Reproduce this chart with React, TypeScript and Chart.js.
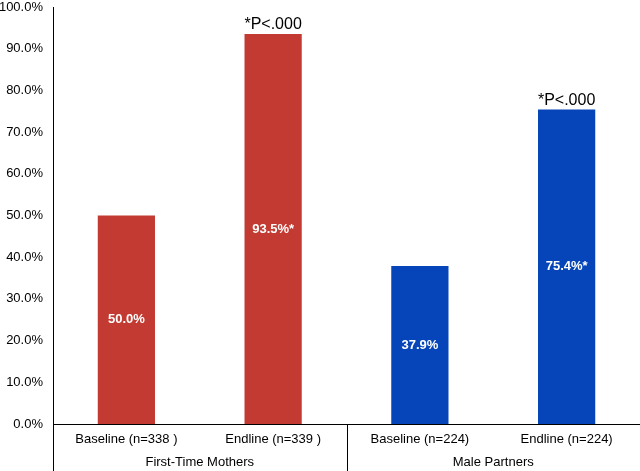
import React, { useEffect, useRef } from "react";
import { Chart, registerables } from "chart.js";
Chart.register(...registerables);

const categories = ["Baseline (n=338 )", "Endline (n=339 )", "Baseline (n=224)", "Endline (n=224)"];
const values = [50.0, 93.5, 37.9, 75.4];
const valueLabels = ["50.0%", "93.5%*", "37.9%", "75.4%*"];
const sigLabels = ["", "*P<.000", "", "*P<.000"];
const groups = ["First-Time Mothers", "Male Partners"];
const barColors = ["#C23A31", "#C23A31", "#0645B9", "#0645B9"];

const FONT = "Arial, 'Liberation Sans', sans-serif";

export default function App() {
  const ref = useRef<HTMLCanvasElement>(null);
  useEffect(() => {
    const annot = {
      id: "annot",
      afterDatasetsDraw(chart: any) {
        const ctx = chart.ctx;
        const meta = chart.getDatasetMeta(0);
        ctx.save();
        meta.data.forEach((bar: any, i: number) => {
          const mid = (bar.y + bar.base) / 2;
          ctx.fillStyle = "#ffffff";
          ctx.font = "bold 13px " + FONT;
          ctx.textAlign = "center";
          ctx.textBaseline = "middle";
          ctx.fillText(valueLabels[i], bar.x, mid);
          if (sigLabels[i]) {
            ctx.fillStyle = "#000000";
            ctx.font = "16px " + FONT;
            ctx.textBaseline = "alphabetic";
            ctx.fillText(sigLabels[i], bar.x, bar.y - 5);
          }
        });
        const area = chart.chartArea;
        const xs = chart.scales.x;
        const bottom = chart.height;
        ctx.strokeStyle = "#000000";
        ctx.lineWidth = 1;
        const left = area.left;
        const right = area.right;
        const midX = (left + right) / 2;
        [left, midX, right - 0.5].forEach((x) => {
          const px = Math.round(x) + 0.5;
          ctx.beginPath();
          ctx.moveTo(px, area.bottom);
          ctx.lineTo(px, bottom);
          ctx.stroke();
        });
        ctx.fillStyle = "#000000";
        ctx.font = "13px " + FONT;
        ctx.textAlign = "center";
        ctx.textBaseline = "middle";
        const g0 = (xs.getPixelForValue(0) + xs.getPixelForValue(1)) / 2;
        const g1 = (xs.getPixelForValue(2) + xs.getPixelForValue(3)) / 2;
        ctx.fillText(groups[0], g0, area.bottom + 38);
        ctx.fillText(groups[1], g1, area.bottom + 38);
        ctx.restore();
      },
    };
    const chart = new Chart(ref.current!, {
      type: "bar",
      data: {
        labels: categories,
        datasets: [
          {
            data: values,
            backgroundColor: barColors,
            categoryPercentage: 1,
            barPercentage: 0.39,
          },
        ],
      },
      options: {
        animation: false,
        responsive: false,
        layout: { padding: { top: 7, right: 0, left: 0, bottom: 0 } },
        plugins: { legend: { display: false }, tooltip: { enabled: false } },
        scales: {
          x: {
            grid: { display: false, drawTicks: false },
            border: { display: true, color: "#000000", width: 1 },
            ticks: { color: "#000000", font: { family: FONT, size: 13 }, padding: 8, maxRotation: 0 },
            afterFit(scale: any) {
              scale.height = 47;
            },
          },
          y: {
            min: 0,
            max: 100,
            grid: { display: false, drawTicks: false },
            border: { display: true, color: "#000000", width: 1 },
            ticks: {
              stepSize: 10,
              color: "#000000",
              font: { family: FONT, size: 13 },
              padding: 10,
              callback: (v: any) => Number(v).toFixed(1) + "%",
            },
            afterFit(scale: any) {
              scale.width = 53;
              scale.paddingTop = 0;
              scale.paddingBottom = 0;
            },
          },
        },
      },
      plugins: [annot],
    });
    return () => chart.destroy();
  }, []);
  return (
    <div style={{ position: "fixed", left: 0, top: 0, width: 640, height: 471, background: "#fff" }}>
      <canvas ref={ref} width={640} height={471} style={{ width: 640, height: 471 }} />
    </div>
  );
}
